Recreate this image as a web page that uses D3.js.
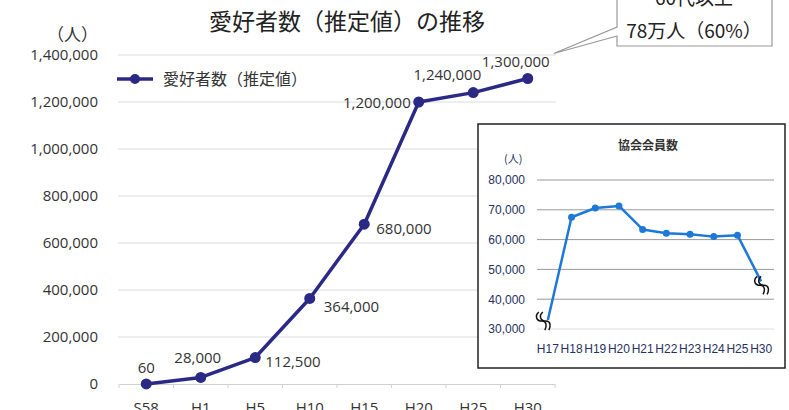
<!DOCTYPE html>
<html>
<head>
<meta charset="utf-8">
<script src="https://cdn.jsdelivr.net/npm/d3@7"></script>
<style>
  body { margin: 0; background: #fff; }
  svg { display: block; font-family: "Noto Sans CJK JP", "Noto Sans", sans-serif; }
</style>
</head>
<body>
<svg width="789" height="410"></svg>
<script>
// Main chart data
const years = ["S58", "H1", "H5", "H10", "H15", "H20", "H25", "H30"];
const fans = [60, 28000, 112500, 364000, 680000, 1200000, 1240000, 1300000];
const fanLabels = ["60", "28,000", "112,500", "364,000", "680,000", "1,200,000", "1,240,000", "1,300,000"];
const yTicks = [0, 200000, 400000, 600000, 800000, 1000000, 1200000, 1400000];

// Inset data
const memberYears = ["H17", "H18", "H19", "H20", "H21", "H22", "H23", "H24", "H25", "H30"];
const members = [33000, 67500, 70600, 71300, 63400, 62100, 61800, 61000, 61500, 46000];
const memberTicks = [30000, 40000, 50000, 60000, 70000, 80000];

const svg = d3.select("svg");
const navy = "#2a2a86";
const numFont = "'Open Sans', 'Noto Sans', sans-serif";

// Scales for the main chart
const x = d3.scaleBand().domain(years).range([119, 555]);
const y = d3.scaleLinear().domain([0, 1400000]).range([384, 55]);

// Title
svg.append("text")
    .attr("x", 347).attr("y", 30)
    .attr("text-anchor", "middle")
    .style("font-size", "23px").style("fill", "#222")
    .text("愛好者数（推定値）の推移");

svg.append("text")
    .attr("x", 98).attr("y", 41)
    .attr("text-anchor", "end")
    .style("font-size", "17px").style("fill", "#333")
    .text("（人）");

// Gridlines
svg.append("g").selectAll("line")
    .data(yTicks.slice(1))
    .join("line")
    .attr("x1", 118).attr("x2", 556)
    .attr("y1", d => y(d)).attr("y2", d => y(d))
    .attr("stroke", "#dcdcdc").attr("stroke-width", 1);

// Y axis labels
const yAxis = svg.append("g")
    .attr("transform", "translate(100,0)")
    .call(d3.axisLeft(y).tickValues(yTicks).tickSize(0).tickPadding(2)
        .tickFormat(d => d3.format(",")(d)));
yAxis.select(".domain").remove();
yAxis.selectAll("text")
    .style("font-size", "15px").style("fill", "#333").style("font-family", numFont);

// X axis (labels run off the bottom edge, as in the source image)
const xAxis = svg.append("g")
    .attr("transform", `translate(0,${y(0)})`)
    .call(d3.axisBottom(x).tickSize(0).tickPadding(18));
xAxis.select(".domain").attr("stroke", "#d0d0d0");
xAxis.selectAll("text")
    .style("font-size", "15px").style("fill", "#333").style("font-family", numFont);
svg.append("g").selectAll("line")
    .data(years.map(d => x(d)).concat([x.range()[1]]))
    .join("line")
    .attr("x1", d => d).attr("x2", d => d)
    .attr("y1", y(0)).attr("y2", y(0) + 4)
    .attr("stroke", "#d0d0d0");

// Line and markers
const cx = i => x(years[i]) + x.bandwidth() / 2;
const line = d3.line().x((d, i) => cx(i)).y(d => y(d));
svg.append("path")
    .datum(fans)
    .attr("d", line)
    .attr("fill", "none")
    .attr("stroke", navy)
    .attr("stroke-width", 3.5)
    .attr("stroke-linejoin", "round");
svg.append("g").selectAll("circle")
    .data(fans)
    .join("circle")
    .attr("cx", (d, i) => cx(i)).attr("cy", d => y(d))
    .attr("r", 5.5).attr("fill", navy);

// Data labels: [dx, dy, anchor]
const labelPos = [
    [0, -11, "middle"], [-3, -14, "middle"], [10, 9, "start"], [14, 14, "start"],
    [12, 10, "start"], [-8, 6, "end"], [8, -13, "end"], [-12, -12, "middle"]
];
svg.append("g").selectAll("text")
    .data(fans)
    .join("text")
    .attr("x", (d, i) => cx(i) + labelPos[i][0])
    .attr("y", (d, i) => y(d) + labelPos[i][1])
    .attr("text-anchor", (d, i) => labelPos[i][2])
    .style("font-size", "15px").style("fill", "#333").style("font-family", numFont)
    .text((d, i) => fanLabels[i]);

// Legend
svg.append("line")
    .attr("x1", 117).attr("x2", 153).attr("y1", 79).attr("y2", 79)
    .attr("stroke", navy).attr("stroke-width", 3.5);
svg.append("circle").attr("cx", 135).attr("cy", 79).attr("r", 5).attr("fill", navy);
svg.append("text")
    .attr("x", 163).attr("y", 85)
    .style("font-size", "16px").style("fill", "#333")
    .text("愛好者数（推定値）");

// Callout
const tip = [cx(7) + 26, y(1300000) - 25];
svg.append("path")
    .attr("d", `M617,-5 L617,27 L${tip[0]},${tip[1]} L617,36 L617,46 L772,46 L772,-5 Z`)
    .attr("fill", "#fff").attr("stroke", "#999").attr("stroke-width", 1.2);
svg.append("text")
    .attr("x", 694).attr("y", 5)
    .attr("text-anchor", "middle")
    .style("font-size", "19px").style("fill", "#222")
    .text("60代以上");
svg.append("text")
    .attr("x", 694).attr("y", 38)
    .attr("text-anchor", "middle")
    .style("font-size", "19px").style("fill", "#222")
    .text("78万人（60%）");

// Inset chart
const inset = svg.append("g");
inset.append("rect")
    .attr("x", 478).attr("y", 124).attr("width", 307).attr("height", 244)
    .attr("fill", "#fff").attr("stroke", "#222").attr("stroke-width", 1.5);

const ix = d3.scaleBand().domain(memberYears).range([536, 773]);
const iy = d3.scaleLinear().domain([30000, 80000]).range([329, 180]);
const icx = i => ix(memberYears[i]) + ix.bandwidth() / 2;
const insetBlue = "#1e78d8";
const insetText = "#26325e";
const narrow = "'Liberation Sans Narrow', 'Liberation Sans', sans-serif";

inset.append("text")
    .attr("x", 648).attr("y", 150)
    .attr("text-anchor", "middle")
    .style("font-size", "12px").style("font-weight", "bold").style("fill", "#333")
    .text("協会会員数");
inset.append("text")
    .attr("x", 504).attr("y", 163)
    .style("font-size", "11px").style("fill", insetText)
    .text("(人)");

inset.append("g").selectAll("line")
    .data(memberTicks)
    .join("line")
    .attr("x1", 537).attr("x2", 774)
    .attr("y1", d => iy(d)).attr("y2", d => iy(d))
    .attr("stroke", d => d === 30000 ? "#dedede" : "#9a9a9a").attr("stroke-width", 1);

const iyAxis = inset.append("g")
    .attr("transform", "translate(525,0)")
    .call(d3.axisLeft(iy).tickValues(memberTicks).tickSize(0).tickPadding(0)
        .tickFormat(d => d3.format(",")(d)));
iyAxis.select(".domain").remove();
iyAxis.selectAll("text")
    .style("font-size", "12px").style("fill", insetText).style("font-family", narrow);

const ixAxis = inset.append("g")
    .attr("transform", "translate(0,341)")
    .call(d3.axisBottom(ix).tickSize(0).tickPadding(3));
ixAxis.select(".domain").remove();
ixAxis.selectAll("text")
    .style("font-size", "12px").style("fill", insetText).style("font-family", narrow);

inset.append("path")
    .datum(members)
    .attr("d", d3.line().x((d, i) => icx(i)).y(d => iy(d)))
    .attr("fill", "none").attr("stroke", insetBlue).attr("stroke-width", 2.5)
    .attr("stroke-linejoin", "round");
inset.append("g").selectAll("circle")
    .data(members.slice(1, 9))
    .join("circle")
    .attr("cx", (d, i) => icx(i + 1)).attr("cy", d => iy(d))
    .attr("r", 3.5).attr("fill", insetBlue);

// Axis break marks at H17 and H30: two parallel S-shaped strokes
const breakMark = (bx, by) => {
    const g = inset.append("g").attr("transform", `translate(${bx},${by})`);
    [-2, 2].forEach(o => {
        g.append("path")
            .attr("d", `M${-5 + o},-9 C${-9 + o},-6 ${-8 + o},0 ${-2 + o},0 ` +
                `C${3 + o},0 ${3 + o},5 ${1 + o},9`)
            .attr("fill", "none").attr("stroke", "#111").attr("stroke-width", 1.5);
    });
};
breakMark(icx(0) - 2, iy(members[0]) + 1);
breakMark(icx(9) + 3, iy(members[9]) + 4);
</script>
</body>
</html>
